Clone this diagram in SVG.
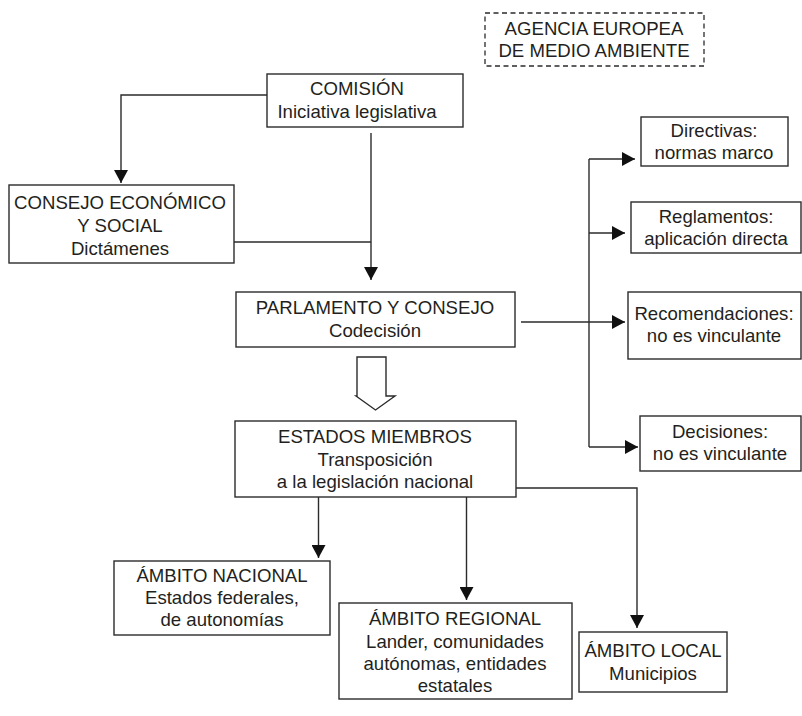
<svg xmlns="http://www.w3.org/2000/svg" width="802" height="716" viewBox="0 0 802 716">
<defs>
<style>
.box{fill:#fff;stroke:#2b2b2b;stroke-width:1.4}
.dash{fill:#fff;stroke:#2b2b2b;stroke-width:1.3;stroke-dasharray:5 3.5}
.t{font-family:"Liberation Sans",Arial,sans-serif;font-size:18.6px;fill:#231f20;text-anchor:middle}
.c{fill:none;stroke:#2b2b2b;stroke-width:1.4}
</style>
<marker id="ah" markerUnits="userSpaceOnUse" markerWidth="14" markerHeight="14" refX="13" refY="7" orient="auto">
<path d="M0,0 L13,7 L0,14 Z" fill="#111"/>
</marker>
</defs>
<rect width="802" height="716" fill="#fff"/>

<g id="connectors">
<polyline class="c" points="267,95 121,95 121,183" marker-end="url(#ah)"/>
<line class="c" x1="371" y1="133" x2="371" y2="280" marker-end="url(#ah)"/>
<line class="c" x1="234" y1="242" x2="371" y2="242"/>
<line class="c" x1="521" y1="322" x2="625" y2="322" marker-end="url(#ah)"/>
<line class="c" x1="589" y1="159" x2="589" y2="447"/>
<line class="c" x1="589" y1="159" x2="635" y2="159" marker-end="url(#ah)"/>
<line class="c" x1="589" y1="233" x2="625" y2="233" marker-end="url(#ah)"/>
<line class="c" x1="589" y1="447" x2="638" y2="447" marker-end="url(#ah)"/>
<path class="c" d="M357,357 L386,357 L386,396 L395,396 L375.5,410 L356,396 L357,396 Z" fill="#fff"/>
<line class="c" x1="318.5" y1="497" x2="318.5" y2="558" marker-end="url(#ah)"/>
<line class="c" x1="466.5" y1="497" x2="466.5" y2="600" marker-end="url(#ah)"/>
<polyline class="c" points="516,488 637,488 637,628" marker-end="url(#ah)"/>
</g>

<g id="agencia">
<rect class="dash" x="485" y="13" width="219" height="53"/>
<text class="t" x="594" y="35">AGENCIA EUROPEA</text>
<text class="t" x="594" y="57">DE MEDIO AMBIENTE</text>
</g>

<g id="comision">
<rect class="box" x="267" y="74" width="196" height="53"/>
<text class="t" x="357" y="95">COMISIÓN</text>
<text class="t" x="357" y="118">Iniciativa legislativa</text>
</g>

<g id="consejo">
<rect class="box" x="9" y="185" width="225" height="78"/>
<text class="t" x="120" y="209">CONSEJO ECONÓMICO</text>
<text class="t" x="120" y="232">Y SOCIAL</text>
<text class="t" x="120" y="255">Dictámenes</text>
</g>

<g id="parlamento">
<rect class="box" x="236" y="292" width="279" height="55"/>
<text class="t" x="375" y="314">PARLAMENTO Y CONSEJO</text>
<text class="t" x="375" y="337">Codecisión</text>
</g>

<g id="directivas">
<rect class="box" x="641" y="117" width="147" height="49"/>
<text class="t" x="714" y="137">Directivas:</text>
<text class="t" x="714" y="159">normas marco</text>
</g>

<g id="reglamentos">
<rect class="box" x="631" y="202" width="170" height="51"/>
<text class="t" x="716" y="223">Reglamentos:</text>
<text class="t" x="716" y="245">aplicación directa</text>
</g>

<g id="recomendaciones">
<rect class="box" x="628" y="292" width="173" height="67"/>
<text class="t" x="714" y="320">Recomendaciones:</text>
<text class="t" x="714" y="342">no es vinculante</text>
</g>

<g id="decisiones">
<rect class="box" x="640" y="416" width="161" height="55"/>
<text class="t" x="720" y="438">Decisiones:</text>
<text class="t" x="720" y="460">no es vinculante</text>
</g>

<g id="estados">
<rect class="box" x="235" y="421" width="281" height="76"/>
<text class="t" x="375" y="443">ESTADOS MIEMBROS</text>
<text class="t" x="375" y="466">Transposición</text>
<text class="t" x="375" y="488">a la legislación nacional</text>
</g>

<g id="nacional">
<rect class="box" x="114" y="561" width="216" height="74"/>
<text class="t" x="222" y="582">ÁMBITO NACIONAL</text>
<text class="t" x="222" y="604">Estados federales,</text>
<text class="t" x="222" y="626">de autonomías</text>
</g>

<g id="regional">
<rect class="box" x="339" y="603" width="233" height="96"/>
<text class="t" x="455" y="625">ÁMBITO REGIONAL</text>
<text class="t" x="455" y="648">Lander, comunidades</text>
<text class="t" x="455" y="670">autónomas, entidades</text>
<text class="t" x="455" y="692">estatales</text>
</g>

<g id="local">
<rect class="box" x="579" y="632" width="148" height="60"/>
<text class="t" x="653" y="657">ÁMBITO LOCAL</text>
<text class="t" x="653" y="680">Municipios</text>
</g>
</svg>
